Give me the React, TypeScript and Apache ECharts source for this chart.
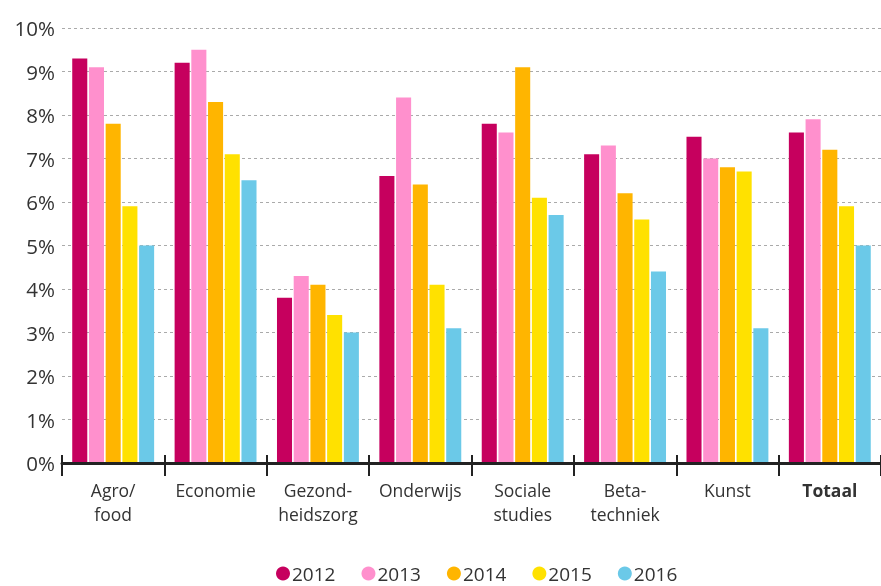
import React, { useEffect, useRef } from "react";
import * as echarts from "echarts";

const categories = ["Agro/\nfood", "Economie", "Gezond-\nheidszorg", "Onderwijs", "Sociale\nstudies", "Beta-\ntechniek", "Kunst", "Totaal"];
const years = ["2012", "2013", "2014", "2015", "2016"];
const v2012 = [9.3, 9.2, 3.8, 6.6, 7.8, 7.1, 7.5, 7.6];
const v2013 = [9.1, 9.5, 4.3, 8.4, 7.6, 7.3, 7.0, 7.9];
const v2014 = [7.8, 8.3, 4.1, 6.4, 9.1, 6.2, 6.8, 7.2];
const v2015 = [5.9, 7.1, 3.4, 4.1, 6.1, 5.6, 6.7, 5.9];
const v2016 = [5.0, 6.5, 3.0, 3.1, 5.7, 4.4, 3.1, 5.0];
const colors = ["#c6005e", "#ff90cd", "#ffb500", "#ffe100", "#6bc9e8"];

export default function App() {
  const ref = useRef<HTMLDivElement>(null);
  useEffect(() => {
    if (!ref.current) return;
    const chart = echarts.init(ref.current, undefined, { renderer: "svg" });
    const all = [v2012, v2013, v2014, v2015, v2016];
    const font = "'Open Sans', 'Noto Sans', sans-serif";
    chart.setOption({
      animation: false,
      textStyle: { fontFamily: font },
      grid: { left: 62, right: 0, top: 28, bottom: 123 },
      legend: {
        left: 276,
        top: 564,
        padding: 0,
        icon: "circle",
        itemWidth: 14,
        itemHeight: 14,
        itemGap: 26,
        textStyle: { fontSize: 19, lineHeight: 17, color: "#333", fontFamily: font, padding: [0, 0, 0, -3] },
        data: years,
      },
      xAxis: [
        {
          type: "category",
          data: categories,
          axisLine: { lineStyle: { color: "#222", width: 3 } },
          axisTick: { show: true, length: 13, lineStyle: { color: "#222", width: 2 } },
          axisLabel: {
            fontSize: 17.5,
            color: "#333",
            lineHeight: 24,
            margin: 15,
            interval: 0,
            formatter: (v: string) => (v === "Totaal" ? "{b|" + v + "}" : v),
            rich: { b: { fontWeight: "bold", fontSize: 17.5, color: "#333", fontFamily: font } },
          },
          z: 10,
        },
        {
          type: "category",
          data: categories,
          position: "bottom",
          axisLine: { show: false },
          axisTick: { show: true, inside: true, length: 8, lineStyle: { color: "#222", width: 2 } },
          axisLabel: { show: false },
          z: 10,
        },
      ],
      yAxis: {
        type: "value",
        min: 0,
        max: 10,
        interval: 1,
        axisLine: { show: false },
        axisTick: { show: false },
        axisLabel: { fontSize: 20.5, color: "#333", margin: 7, formatter: (v: number) => v + "%" },
        splitLine: { lineStyle: { color: "#aaa", type: [3, 3], width: 1 } },
      },
      series: years.map((y, i) => ({
        name: y,
        type: "bar",
        xAxisIndex: 0,
        data: all[i],
        itemStyle: { color: colors[i] },
        barGap: "11%",
        barCategoryGap: "20%",
      })),
    });
    return () => chart.dispose();
  }, []);
  return <div ref={ref} style={{ position: "fixed", left: 0, top: 0, width: 881, height: 586 }} />;
}
